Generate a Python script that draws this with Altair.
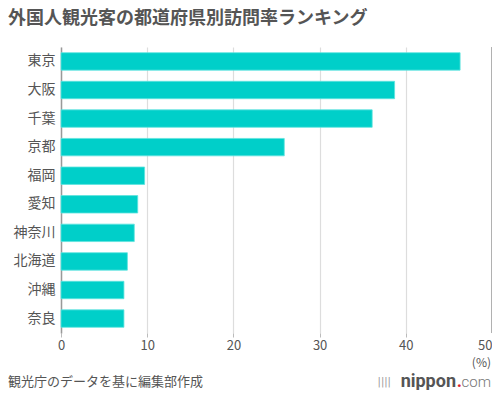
import altair as alt
import pandas as pd

prefectures = ["東京", "大阪", "千葉", "京都", "福岡", "愛知", "神奈川", "北海道", "沖縄", "奈良"]
rates = [46.3, 38.7, 36.1, 25.9, 9.7, 8.9, 8.5, 7.7, 7.3, 7.3]
x_ticks = [0, 10, 20, 30, 40, 50]

title_text = "外国人観光客の都道府県別訪問率ランキング"
source_text = "観光庁のデータを基に編集部作成"
unit_text = "(%)"

FONT = "Noto Sans CJK JP"
GRAY = "#555555"

df = pd.DataFrame({"pref": prefectures, "rate": rates})

x_scale = alt.Scale(domain=[0, 50], nice=False, zero=True)

bars = alt.Chart(df).mark_bar(
    color="#00CFC9", stroke="#5EE3DE", strokeWidth=0.8
).encode(
    x=alt.X("rate:Q", scale=x_scale,
            axis=alt.Axis(values=x_ticks, title=None, domain=False, grid=True,
                          gridColor="#dddddd", gridWidth=1.2, tickColor="#bbbbbb",
                          tickSize=4, labelPadding=2, labelFontSize=13,
                          labelAlign=alt.ExprRef(expr="datum.value == 50 ? 'right' : 'center'"),
                          labelColor=GRAY, labelFont=FONT)),
    y=alt.Y("pref:N", sort=prefectures,
            scale=alt.Scale(paddingInner=0.39, paddingOuter=0.2),
            axis=alt.Axis(title=None, ticks=False, domain=True, domainColor="#999999",
                          domainWidth=1.5, labelPadding=6, labelFontSize=14,
                          labelColor=GRAY, labelFont=FONT)),
)

edge = alt.Chart(pd.DataFrame({"v": [50]})).mark_rule(
    color="#999999", strokeWidth=1.5
).encode(x=alt.X("v:Q", scale=x_scale))

def label(text, x, y, **kw):
    return alt.Chart(pd.DataFrame({"t": [text]})).mark_text(**kw).encode(
        x=alt.value(x), y=alt.value(y), text="t:N")

title = label(title_text, -53, -28, align="left", baseline="middle",
              fontSize=18, fontWeight="bold", color=GRAY, font=FONT)
unit = label(unit_text, 430, 316, align="right", baseline="middle",
             fontSize=12, color=GRAY, font=FONT)
source = label(source_text, -53, 335, align="left", baseline="middle",
               fontSize=13, color=GRAY, font=FONT)
logo_icon = label("||||", 330, 335, align="right", baseline="middle",
                  fontSize=10, color="#999999", font="DejaVu Sans")
logo_a = label("nippon", 395, 335, align="right", baseline="middle",
               fontSize=18, fontWeight="bold", color="#555555", font="Roboto")
logo_b = label(".", 401, 335, align="right", baseline="middle",
               fontSize=18, fontWeight="bold", color="#e0202a", font="Roboto")
logo_c = label("com", 430, 335, align="right", baseline="middle",
               fontSize=15, fontWeight=300, color="#777777", font="Roboto")

chart = alt.layer(bars, edge, title, unit, source, logo_icon, logo_a, logo_b, logo_c).properties(
    width=431, height=286,
    autosize=alt.AutoSizeParams(type="none"),
    padding={"left": 53, "top": 39, "right": 0, "bottom": 57},
).configure_view(stroke=None)

chart.save("out.html", embed_options={"renderer": "svg", "actions": False})
